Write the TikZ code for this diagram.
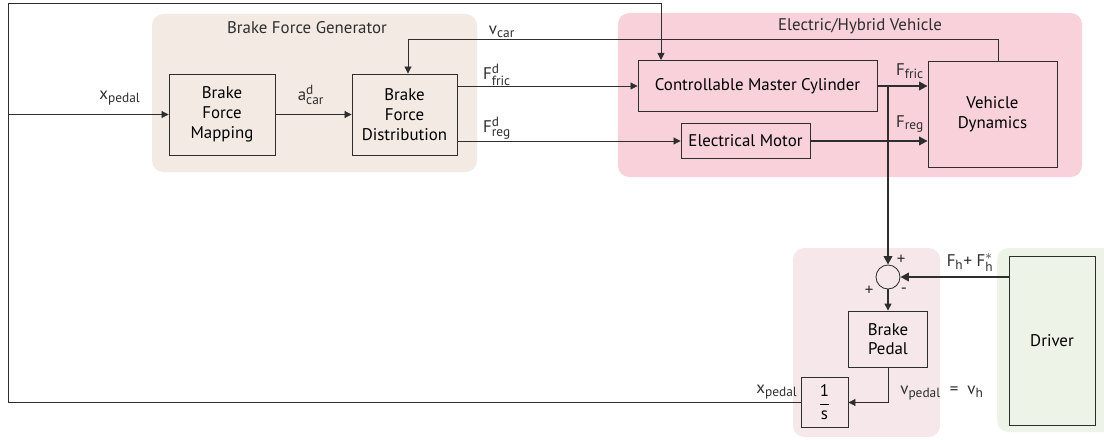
\documentclass[tikz,border=0pt]{standalone}
\usepackage{amsmath}
\usepackage{fontspec}
\setmainfont{PT Sans}
\usepackage{tikz}
\usetikzlibrary{arrows.meta,positioning,calc}
\DeclareMathSizes{12}{12}{9.5}{7.5}
\definecolor{cLine}{HTML}{2E2E2E}
\definecolor{cGen}{HTML}{F3EAE4}
\definecolor{cCar}{HTML}{F8D1DB}
\definecolor{cPedal}{HTML}{F6E8EA}
\definecolor{cDriver}{HTML}{EDF3E6}

\begin{document}
\begin{tikzpicture}[x=0.025cm,y=-0.025cm,font=\fontsize{12}{14}\selectfont,
  blk/.style={draw=cLine,line width=0.6pt,align=center,inner sep=0pt},
  sig/.style={cLine,line width=0.6pt,-{Triangle[length=5pt,width=5pt]}},
  bus/.style={cLine,line width=1.4pt,-{Triangle[length=6pt,width=6pt]}},
  lbl/.style={inner sep=1pt,text=cLine}]
  \useasboundingbox (0,0) rectangle (1104,440);
  \fill[cGen,rounded corners=8pt] (152,14) rectangle (477,172);
  \fill[cCar,rounded corners=8pt] (618,13) rectangle (1082,177);
  \fill[cPedal,rounded corners=8pt] (793,248) rectangle (940,437);
  \fill[cDriver,rounded corners=8pt] (997,248) rectangle (1115,432);
  \node[lbl] (genT) at (307,28) {Brake Force Generator};
  \node[lbl] (carT) at (860,26) {Electric/Hybrid Vehicle};

  \node[blk,minimum width=2.65cm,minimum height=2.025cm] (bfm) at (222,114.5) {Brake\\Force\\Mapping};
  \node[blk,minimum width=2.625cm,minimum height=2.025cm] (bfd) at (404.5,114.5) {Brake\\Force\\Distribution};
  \node[blk,minimum width=5.975cm,minimum height=1.275cm] (cmc) at (757.5,86) {Controllable Master Cylinder};
  \node[blk,minimum width=3.225cm,minimum height=0.875cm] (em) at (745.5,141) {Electrical Motor};
  \node[blk,minimum width=3.225cm,minimum height=2.65cm] (vd) at (992.5,114) {Vehicle\\Dynamics};
  \node[blk,circle,minimum size=0.6cm] (sum) at (888,277) {};
  \node[blk,minimum width=1.975cm,minimum height=1.4cm] (bp) at (888,339) {Brake\\Pedal};
  \node[blk,minimum width=1.175cm,minimum height=1.25cm] (integ) at (824.5,402.5) {$\dfrac{\text{1}}{\text{s}}$};
  \node[blk,fill=cDriver,minimum width=2.15cm,minimum height=4.225cm] (drv) at (1052,340.5) {Driver};

  \coordinate (loopBL) at (8,402.5);
  \coordinate (loopTL) at (8,3);
  \coordinate (cmcIn) at (661,60);
  \coordinate (vcarR) at (998,39);
  \coordinate (vcarL) at (408,39);

  \draw[sig] (integ.west) -- (loopBL) -- (loopTL) -| (cmcIn);
  \draw[sig] (bfm.west -| loopTL) -- (bfm.west);
  \draw[sig] (bfm) -- (bfd);
  \draw[sig] (bfd.east |- cmc.west) -- (cmc.west);
  \draw[sig] (bfd.east |- em.west) -- (em.west);
  \draw[sig] (vcarR |- vd.north) -- (vcarR) -- (vcarL) -- (vcarL |- bfd.north);
  \draw[bus] (cmc.east) -- (cmc.east -| vd.west);
  \draw[bus] (em.east) -- (em.east -| vd.west);
  \draw[bus] (sum.north |- cmc.east) -- (sum.north);
  \draw[bus] (drv.west |- sum.east) -- (sum.east);
  \draw[sig,line width=1pt] (sum.south) -- (bp.north);
  \draw[sig] (bp.south) |- (integ.east);

  \node[lbl] (xin) at (120,98) {x$_{\text{pedal}}$};
  \node[lbl] (acar) at (311,95) {a$^{\text{d}}_{\text{car}}$};
  \node[lbl] (vcar) at (502,32) {v$_{\text{car}}$};
  \node[lbl] (ffricd) at (497,75) {F$^{\text{d}}_{\text{fric}}$};
  \node[lbl] (fregd) at (497,128) {F$^{\text{d}}_{\text{reg}}$};
  \node[lbl] (ffric) at (910,71) {F$_{\text{fric}}$};
  \node[lbl] (freg) at (910,124) {F$_{\text{reg}}$};
  \node[lbl] (fh) at (970,263) {F$_{\text{h}}$+ F$^{*}_{\text{h}}$};
  \node[lbl] (vped) at (942,393) {v$_{\text{pedal}}$ \ =\ \ v$_{\text{h}}$};
  \node[lbl] (xout) at (777,392) {x$_{\text{pedal}}$};
  \node[lbl] (pTop) at (901,260) {+};
  \node[lbl] (pLeft) at (869,291) {+};
  \node[lbl] (mRight) at (904,291) {-};
\end{tikzpicture}
\end{document}
